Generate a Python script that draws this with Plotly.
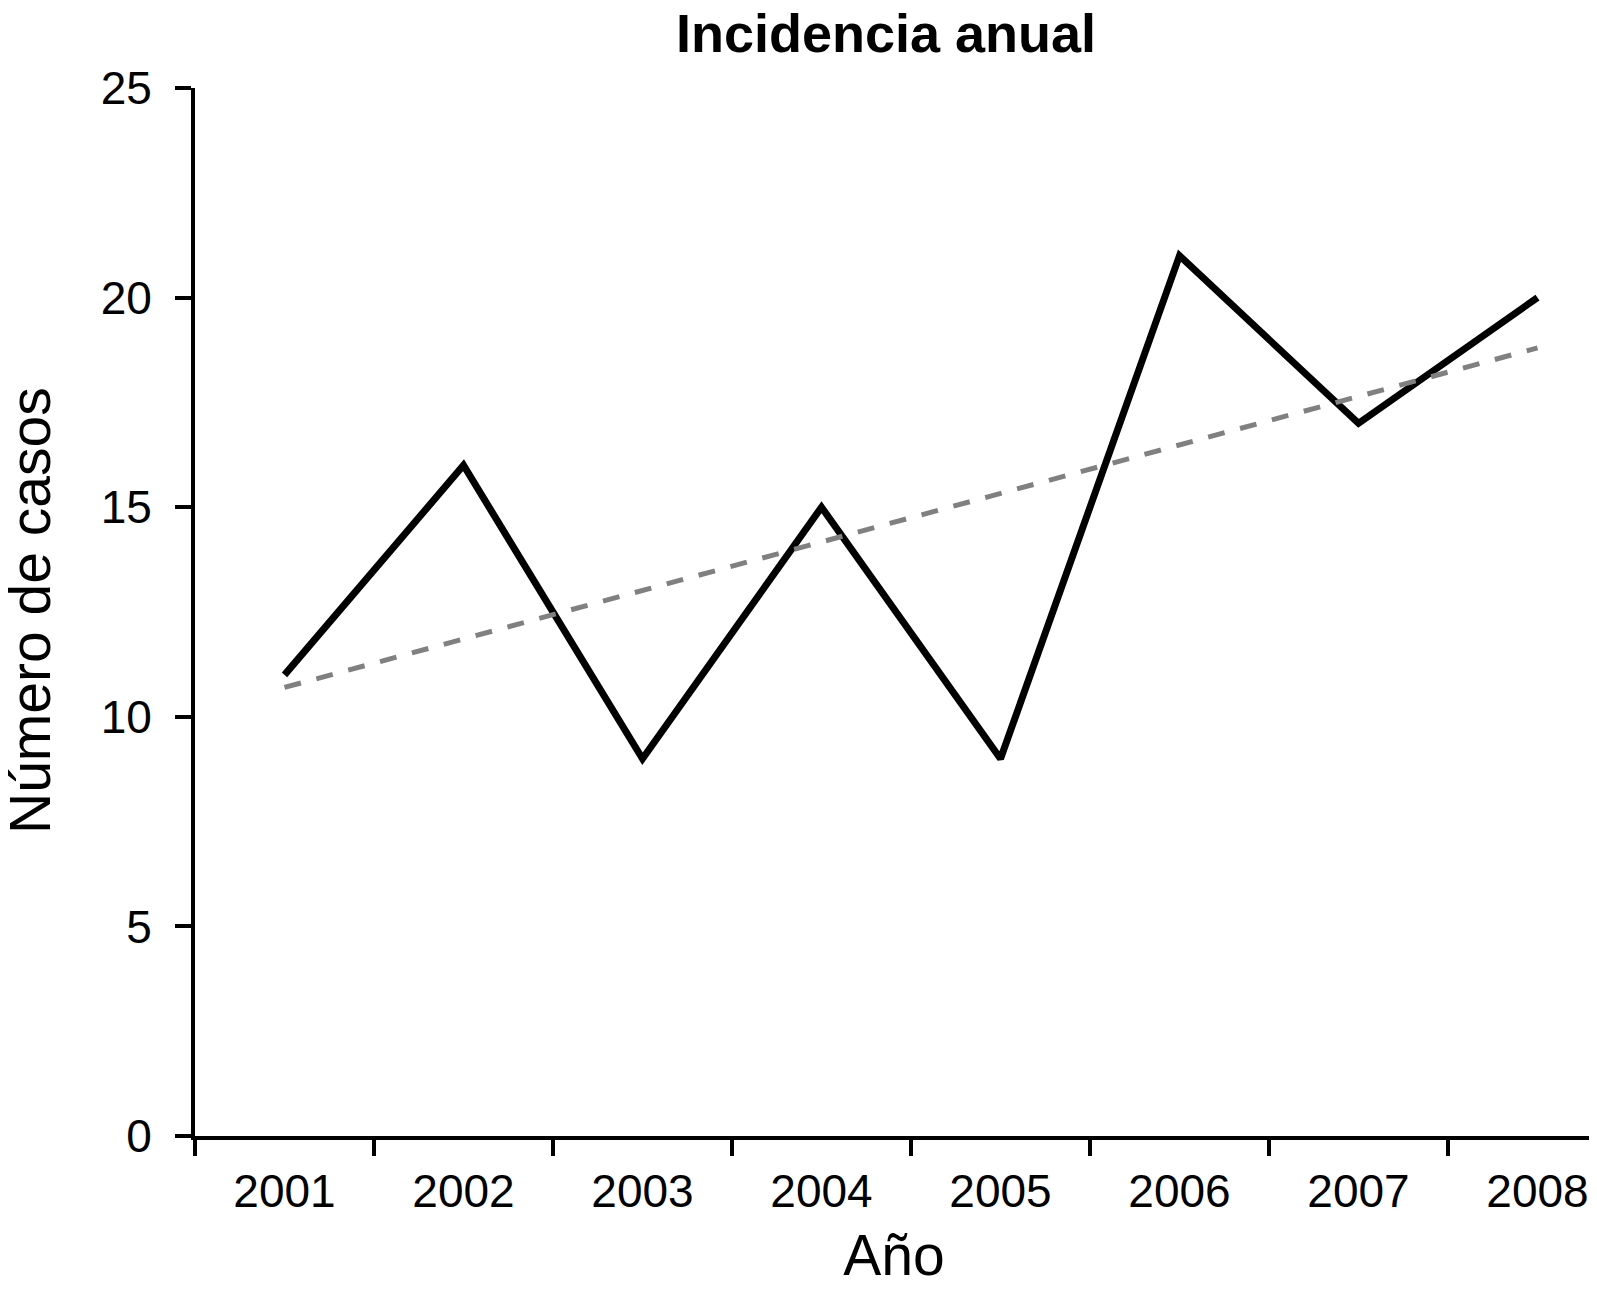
import plotly.graph_objects as go

# Data
years = ["2001", "2002", "2003", "2004", "2005", "2006", "2007", "2008"]
cases = [11, 16, 9, 15, 9, 21, 17, 20]
trend_years = ["2001", "2008"]
trend_values = [10.7, 18.8]
y_ticks = [0, 5, 10, 15, 20, 25]

FONT = "Liberation Sans, Arial, Helvetica, sans-serif"

# The page body has an 8px default margin; size the figure to compensate.
W, H = 1589, 1298

fig = go.Figure()
fig.add_trace(go.Scatter(
    x=years, y=cases, mode="lines",
    line=dict(color="#000000", width=7),
    showlegend=False, hoverinfo="x+y",
))
fig.add_trace(go.Scatter(
    x=trend_years, y=trend_values, mode="lines",
    line=dict(color="#808080", width=5, dash="17px,16px"),
    showlegend=False, hoverinfo="skip",
))

fig.update_layout(
    width=W, height=H,
    margin=dict(l=187, r=4, t=80, b=170, autoexpand=False),
    paper_bgcolor="white", plot_bgcolor="white",
    font=dict(family=FONT, color="#000000"),
    title=dict(
        text="<b>Incidencia anual</b>",
        font=dict(family=FONT, size=54, color="#000000"),
        x=878 / W, xanchor="center", xref="container",
        y=1 - 44 / H, yanchor="bottom", yref="container",
    ),
)

fig.update_xaxes(
    type="category", categoryorder="array", categoryarray=years,
    range=[-0.5, 7.31],
    tickson="boundaries",
    showline=True, linecolor="#000000", linewidth=4,
    ticks="outside", ticklen=16, tickwidth=3.5, tickcolor="#000000",
    tickfont=dict(family=FONT, size=46, color="#000000"),
    ticklabelstandoff=12,
    showgrid=False, zeroline=False, automargin=True,
    title=dict(text="Año", font=dict(family=FONT, size=57, color="#000000"), standoff=20),
)
fig.update_yaxes(
    range=[0, 25], tickvals=y_ticks, ticktext=[str(v) for v in y_ticks],
    showline=True, linecolor="#000000", linewidth=4,
    ticks="outside", ticklen=16, tickwidth=3.5, tickcolor="#000000",
    tickfont=dict(family=FONT, size=46, color="#000000"),
    ticklabelstandoff=14,
    showgrid=False, zeroline=False,
)

# y-axis title as a rotated annotation for precise placement
fig.add_annotation(
    text="Número de casos", textangle=-90,
    xref="paper", yref="paper", x=0, y=0.5,
    xanchor="right", yanchor="middle", xshift=-131, yshift=1,
    showarrow=False,
    font=dict(family=FONT, size=57, color="#000000"),
)

fig.write_html("out.html")
